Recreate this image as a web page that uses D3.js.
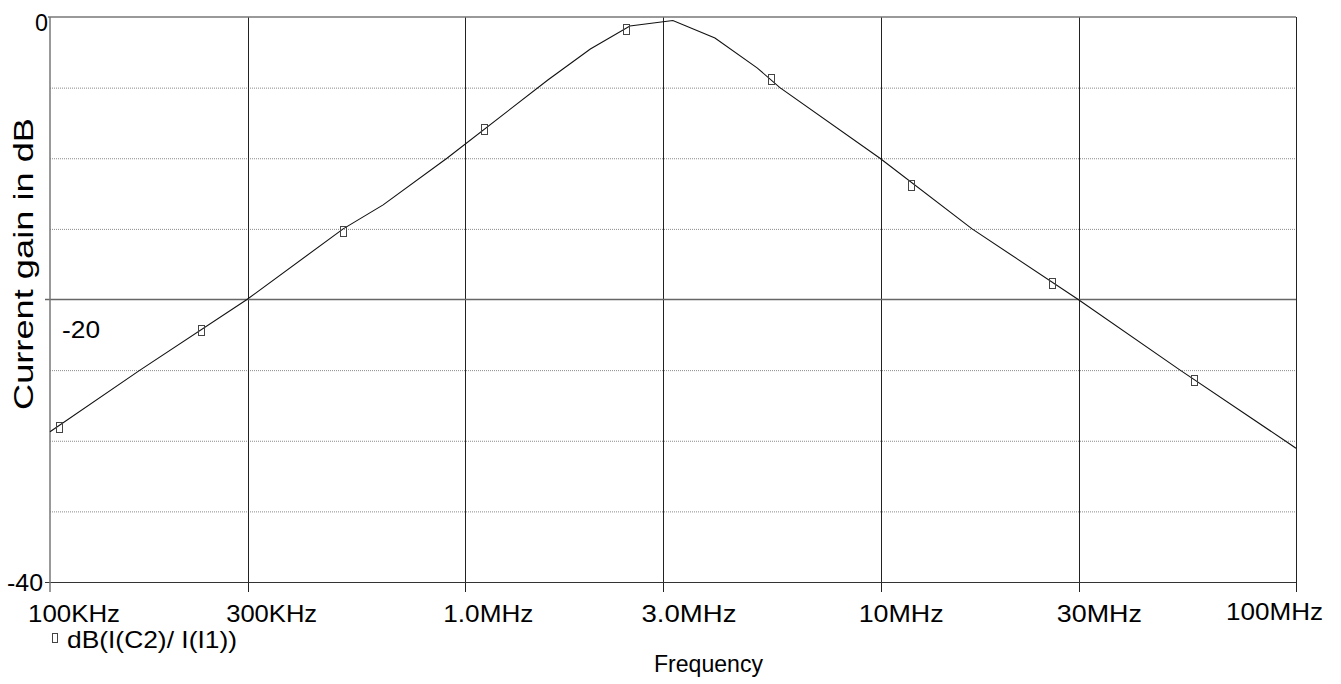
<!DOCTYPE html>
<html>
<head>
<meta charset="utf-8">
<script src="https://cdn.jsdelivr.net/npm/d3@7"></script>
<style>
  body { margin: 0; background: #fff; }
  text { font-family: "Liberation Sans", Arial, sans-serif; fill: #000; }
</style>
</head>
<body>
<div id="chart"></div>
<script>
// gain curve vertices (Hz, dB)
const freqs = [1e5, 1.647e5, 2.98e5, 5.08e5, 6.34e5, 9.03e5, 1.58e6, 2.0e6, 2.49e6, 3.16e6,
               3.99e6, 5.04e6, 5.72e6, 9.96e6, 1.66e7, 2.99e7, 5.26e7, 9.41e7, 1e8];
const gains = [-29.36, -25.0, -20.0, -15.0, -13.3, -10.0, -4.46, -2.27, -0.64, -0.25,
               -1.49, -3.6, -5.0, -10.0, -15.0, -20.0, -25.0, -30.0, -30.53];

// trace marker symbols
const markerFreqs = [1.05e5, 2.31e5, 5.08e5, 1.109e6, 2.44e6, 5.44e6, 1.18e7, 2.59e7, 5.68e7];
const markerGains = [-29.03, -22.16, -15.15, -7.93, -0.85, -4.39, -11.89, -18.83, -25.7];

const xTicks = [1e5, 3e5, 1e6, 3e6, 1e7, 3e7, 1e8];
const xTickLabels = ['100KHz', '300KHz', '1.0MHz', '3.0MHz', '10MHz', '30MHz', '100MHz'];
const xLabelWidths = [92, 91, 90, 95, 85, 85, 97];
const yLabelTicks = [0, -20, -40];
const yLabels = ['0', '-20', '-40'];
const yDotted = [-5, -10, -15, -25, -30, -35];

const traceName = 'dB(I(C2)/ I(I1))';
const xTitle = 'Frequency';
const yTitle = 'Current gain in dB';

const width = 1341, height = 684;
const margin = { top: 17, right: 45, bottom: 102, left: 50 };

const svg = d3.select('#chart').append('svg')
    .attr('width', width)
    .attr('height', height);

const x = d3.scaleLog()
    .domain([1e5, 1e8])
    .range([margin.left, width - margin.right]);

const y = d3.scaleLinear()
    .domain([-40, 0])
    .range([height - margin.bottom, margin.top]);

const x0 = x.range()[0], x1 = x.range()[1];
const yTop = y(0), yBot = y(-40);

// dotted minor grid
svg.selectAll('.dotted')
    .data(yDotted)
    .enter().append('line')
    .attr('x1', x0).attr('x2', x1)
    .attr('y1', d => y(d) + 0.5).attr('y2', d => y(d) + 0.5)
    .attr('stroke', '#8a8a8a')
    .attr('stroke-width', 1)
    .attr('stroke-dasharray', '1,1');

// vertical grid lines with small ticks below the frame
svg.selectAll('.vgrid')
    .data(xTicks.slice(1, -1))
    .enter().append('line')
    .attr('x1', d => Math.round(x(d)) + 0.5).attr('x2', d => Math.round(x(d)) + 0.5)
    .attr('y1', yTop).attr('y2', yBot + 10)
    .attr('stroke', '#222')
    .attr('stroke-width', 1);

// -20 dB line
svg.append('line')
    .attr('x1', x0 - 5).attr('x2', x1)
    .attr('y1', y(-20)).attr('y2', y(-20))
    .attr('stroke', '#666')
    .attr('stroke-width', 1.5);

// frame
svg.append('line')
    .attr('x1', x0 - 5).attr('x2', x1)
    .attr('y1', yBot + 0.5).attr('y2', yBot + 0.5)
    .attr('stroke', '#333').attr('stroke-width', 1);
svg.append('line')
    .attr('x1', Math.round(x1) + 0.5).attr('x2', Math.round(x1) + 0.5)
    .attr('y1', yTop).attr('y2', yBot + 10)
    .attr('stroke', '#222').attr('stroke-width', 1);
svg.append('line')
    .attr('x1', x0 - 2).attr('x2', x1)
    .attr('y1', yTop).attr('y2', yTop)
    .attr('stroke', '#777').attr('stroke-width', 1.5);
svg.append('line')
    .attr('x1', x0).attr('x2', x0)
    .attr('y1', yTop).attr('y2', yBot + 10)
    .attr('stroke', '#777').attr('stroke-width', 1.5);

// curve
const curve = freqs.map((f, i) => ({ f: f, g: gains[i] }));
svg.append('path')
    .datum(curve)
    .attr('fill', 'none')
    .attr('stroke', '#111')
    .attr('stroke-width', 1.1)
    .attr('d', d3.line().x(d => x(d.f)).y(d => y(d.g)));

// markers
const markers = markerFreqs.map((f, i) => ({ f: f, g: markerGains[i] }));
svg.selectAll('.marker')
    .data(markers)
    .enter().append('rect')
    .attr('x', d => Math.round(x(d.f)) - 2.5)
    .attr('y', d => Math.round(y(d.g)) - 4.5)
    .attr('width', 6)
    .attr('height', 10)
    .attr('fill', 'none')
    .attr('stroke', '#444')
    .attr('stroke-width', 1);

// x tick labels
svg.selectAll('.xlab')
    .data(xTicks)
    .enter().append('text')
    .attr('x', (d, i) => Math.min(x(d) - 22, width - 18 - xLabelWidths[i]))
    .attr('y', (d, i) => i === xTicks.length - 1 ? 620 : 622)
    .attr('font-size', 24)
    .attr('textLength', (d, i) => xLabelWidths[i])
    .attr('lengthAdjust', 'spacingAndGlyphs')
    .text((d, i) => xTickLabels[i]);

// y tick labels
const yLabelPos = [{ x: 35, y: 31, w: 13 }, { x: 62, y: 338, w: 38 }, { x: 7, y: 591, w: 36 }];
svg.selectAll('.ylab')
    .data(yLabelTicks)
    .enter().append('text')
    .attr('x', (d, i) => yLabelPos[i].x)
    .attr('y', (d, i) => yLabelPos[i].y)
    .attr('font-size', 24)
    .attr('textLength', (d, i) => yLabelPos[i].w)
    .attr('lengthAdjust', 'spacingAndGlyphs')
    .text((d, i) => yLabels[i]);

// legend
svg.append('rect')
    .attr('x', 52.5).attr('y', 633.5)
    .attr('width', 5).attr('height', 9)
    .attr('fill', 'none').attr('stroke', '#444').attr('stroke-width', 1);
svg.append('text')
    .attr('x', 67).attr('y', 648)
    .attr('font-size', 24)
    .attr('textLength', 170)
    .attr('lengthAdjust', 'spacingAndGlyphs')
    .text(traceName);

// axis titles
svg.append('text')
    .attr('x', 654).attr('y', 672)
    .attr('font-size', 24)
    .attr('textLength', 109)
    .attr('lengthAdjust', 'spacingAndGlyphs')
    .text(xTitle);

svg.append('text')
    .attr('transform', 'translate(33,264) rotate(-90)')
    .attr('text-anchor', 'middle')
    .attr('font-size', 27)
    .attr('textLength', 292)
    .attr('lengthAdjust', 'spacingAndGlyphs')
    .text(yTitle);
</script>
</body>
</html>
